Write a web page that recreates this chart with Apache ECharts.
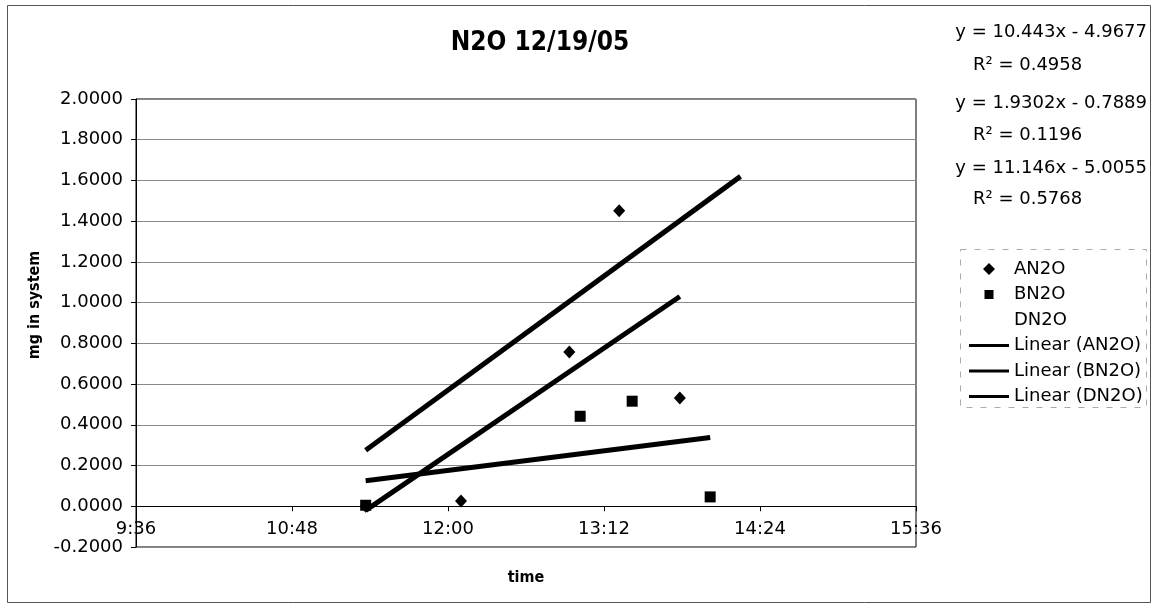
<!doctype html>
<html>
<head>
    <meta charset="utf-8">
    <title>N2O 12/19/05</title>
    <style>
        html, body { margin: 0; padding: 0; background: #fff; }
        #chart { width: 1151px; height: 604px; }
    </style>
</head>
<body>
    <div id="chart"></div>
</body>
</html>
<script type="text/javascript" src="https://cdn.jsdelivr.net/npm/echarts@6/dist/echarts.min.js"></script>
<script type="text/javascript">
    // measured points (time of day, mg in system)
    var anTimes = ['11:22', '12:06', '12:56', '13:19', '13:47'];
    var anValues = [0.000, 0.026, 0.758, 1.451, 0.532];
    var bnTimes = ['11:22', '13:01', '13:25', '14:01'];
    var bnValues = [0.005, 0.442, 0.516, 0.046];

    // trendline end points
    var linATimes = ['11:22', '13:47'];
    var linAValues = [-0.020, 1.030];
    var linBTimes = ['11:22', '14:01'];
    var linBValues = [0.125, 0.338];
    var linDTimes = ['11:22', '14:15'];
    var linDValues = [0.275, 1.620];

    var equations = ['y = 10.443x - 4.9677', 'y = 1.9302x - 0.7889', 'y = 11.146x - 5.0055'];
    var rSquared = ['R² = 0.4958', 'R² = 0.1196', 'R² = 0.5768'];

    function toMin(s) {
        var p = s.split(':');
        return parseInt(p[0], 10) * 60 + parseInt(p[1], 10);
    }
    function pairs(times, values) {
        var out = [];
        for (var i = 0; i < times.length; i++) out.push([toMin(times[i]), values[i]]);
        return out;
    }
    function fmtTime(v) {
        var h = Math.floor(v / 60), m = Math.round(v - h * 60);
        return h + ':' + (m < 10 ? '0' + m : m);
    }

    var font = 'DejaVu Sans';
    var eqY = [34, 105, 170];
    var r2Y = [67, 137, 201];
    var eqGraphics = [];
    for (var i = 0; i < equations.length; i++) {
        eqGraphics.push({
            type: 'text', right: 4, top: eqY[i] - 11,
            style: { text: equations[i], font: '18px "DejaVu Sans"', fill: '#000' }
        });
        eqGraphics.push({
            type: 'text', left: 973, top: r2Y[i] - 11,
            style: { text: rSquared[i], font: '18px "DejaVu Sans"', fill: '#000' }
        });
    }

    var myChart = echarts.init(document.getElementById('chart'));
    // legend icons share one 40x12 box; tiny end caps keep the marker shapes at their own size
    var caps = 'M0,6L0,6.01L0.01,6Z M40,6L40,6.01L39.99,6Z ';
    var diamondIcon = 'path://' + caps + 'M14,6L20,0L26,6L20,12Z';
    var squareIcon = 'path://' + caps + 'M15.5,1.5L24.5,1.5L24.5,10.5L15.5,10.5Z';
    var lineIcon = 'path://' + caps + 'M0,4.5L40,4.5L40,7.5L0,7.5Z';

    var option = {
        animation: false,
        backgroundColor: '#fff',
        title: {
            text: 'N2O 12/19/05',
            left: 535,
            top: 25,
            textAlign: 'center',
            textStyle: { fontFamily: 'DejaVu Sans Condensed', fontWeight: 'bold', fontSize: 26, color: '#000' }
        },
        legend: {
            orient: 'vertical',
            left: 964,
            top: 255,
            itemWidth: 40,
            itemHeight: 12,
            itemGap: 7.5,
            symbolKeepAspect: true,
            itemStyle: { opacity: 1 },
            textStyle: { fontFamily: font, fontSize: 18, color: '#000', lineHeight: 18 },
            data: [
                { name: 'AN2O', icon: diamondIcon },
                { name: 'BN2O', icon: squareIcon },
                { name: 'DN2O', icon: squareIcon, itemStyle: { color: 'rgba(0,0,0,0)', borderWidth: 0 } },
                { name: 'Linear (AN2O)', icon: lineIcon },
                { name: 'Linear (BN2O)', icon: lineIcon },
                { name: 'Linear (DN2O)', icon: lineIcon }
            ]
        },
        graphic: [
            {
                type: 'rect', left: 5, top: 3,
                shape: { width: 1143, height: 597 },
                style: { fill: 'none', stroke: '#555', lineWidth: 1 }
            },
            {
                type: 'rect', left: 958, top: 247,
                shape: { width: 186, height: 158 },
                style: { fill: 'none', stroke: '#aaa', lineWidth: 1, lineDash: [6, 8] }
            }
        ].concat(eqGraphics),
        grid: {
            left: 136,
            right: 235,
            top: 99,
            bottom: 57,
            outerBoundsMode: 'none',
            containLabel: false,
            show: true,
            borderColor: '#000',
            borderWidth: 1
        },
        xAxis: {
            type: 'value',
            name: 'time',
            nameLocation: 'middle',
            nameGap: 23,
            nameTextStyle: { fontFamily: 'DejaVu Sans Condensed', fontWeight: 'bold', fontSize: 16, color: '#000' },
            min: 576,
            max: 936,
            interval: 72,
            axisLine: { onZero: true, lineStyle: { color: '#000', width: 1 } },
            axisTick: { show: true, length: 5, lineStyle: { color: '#000' } },
            axisLabel: {
                formatter: fmtTime,
                margin: -27,
                fontFamily: font,
                fontSize: 18,
                color: '#000'
            },
            splitLine: { show: false }
        },
        yAxis: {
            type: 'value',
            name: 'mg in system',
            nameLocation: 'middle',
            nameGap: 93,
            nameRotate: 90,
            nameTextStyle: { fontFamily: 'DejaVu Sans Condensed', fontWeight: 'bold', fontSize: 16, color: '#000', padding: [0, 0, 0, 36] },
            min: -0.2,
            max: 2.0,
            interval: 0.2,
            axisLine: { show: true, lineStyle: { color: '#000', width: 1 } },
            axisTick: { show: true, length: 5, lineStyle: { color: '#000' } },
            axisLabel: {
                formatter: function (v) { return v.toFixed(4); },
                margin: 13,
                fontFamily: font,
                fontSize: 18,
                color: '#000'
            },
            splitLine: { show: true, lineStyle: { color: '#888', width: 1 } }
        },
        series: [
            {
                name: 'AN2O', type: 'scatter', symbol: 'diamond', symbolSize: [12, 13],
                itemStyle: { color: '#000', opacity: 1 },
                data: pairs(anTimes, anValues)
            },
            {
                name: 'BN2O', type: 'scatter', symbol: 'rect', symbolSize: 11,
                itemStyle: { color: '#000', opacity: 1 },
                data: pairs(bnTimes, bnValues)
            },
            {
                name: 'DN2O', type: 'scatter', symbol: 'none',
                itemStyle: { color: 'rgba(0,0,0,0)' },
                data: []
            },
            {
                name: 'Linear (AN2O)', type: 'line', showSymbol: false, z: 3,
                itemStyle: { color: '#000' },
                lineStyle: { color: '#000', width: 5 },
                data: pairs(linATimes, linAValues)
            },
            {
                name: 'Linear (BN2O)', type: 'line', showSymbol: false, z: 3,
                itemStyle: { color: '#000' },
                lineStyle: { color: '#000', width: 5 },
                data: pairs(linBTimes, linBValues)
            },
            {
                name: 'Linear (DN2O)', type: 'line', showSymbol: false, z: 3,
                itemStyle: { color: '#000' },
                lineStyle: { color: '#000', width: 5 },
                data: pairs(linDTimes, linDValues)
            }
        ]
    };

    myChart.setOption(option);
</script>
